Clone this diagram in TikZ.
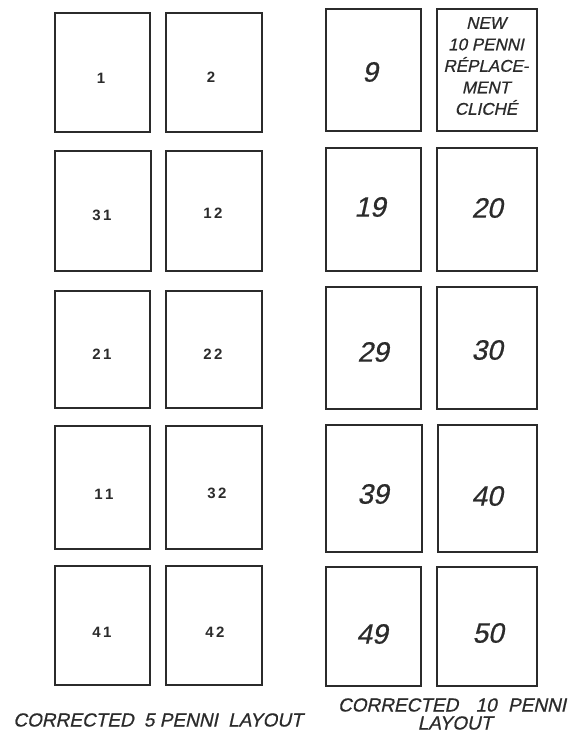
\documentclass[tikz,border=0pt]{standalone}
\usepackage{fontspec}
\setmainfont{Liberation Sans}
\newfontfamily\hand[FakeSlant=0.22,FakeBold=0.6]{Liberation Sans}
\definecolor{ink}{HTML}{2B2B2B}
\tikzset{
  cell/.style={draw=ink, line width=1.3pt, inner sep=0pt, rectangle},
  printed/.style={inner sep=0pt, text=ink, font=\bfseries\fontsize{15}{17}\selectfont},
  written/.style={inner sep=0pt, text=ink, font=\hand\fontsize{28}{30}\selectfont},
  note/.style={inner sep=0pt, text=ink, align=center, font=\hand\fontsize{17}{21.5}\selectfont},
  caption/.style={inner sep=0pt, text=ink, font=\hand\fontsize{19}{21}\selectfont}
}
\newcommand{\cellbox}[5]{%
  \node[cell, minimum width={#4-#2}, minimum height={#5-#3}] (#1) at ({(#2+#4)/2},{(#3+#5)/2}) {};}
\begin{document}
\begin{tikzpicture}[x=1pt,y=-1pt]
\useasboundingbox[fill=white] (0,0) rectangle (580,733);
% left block (5 penni)
\cellbox{b1}{55}{13}{150}{132}
\cellbox{b2}{166}{13}{262}{132}
\cellbox{b31}{55}{151}{151}{271}
\cellbox{b12}{166}{151}{262}{271}
\cellbox{b21}{55}{291}{150}{408}
\cellbox{b22}{166}{291}{262}{408}
\cellbox{b11}{55}{426}{150}{549}
\cellbox{b32}{166}{426}{262}{549}
\cellbox{b41}{55}{566}{150}{685}
\cellbox{b42}{166}{566}{262}{685}
% right block (10 penni)
\cellbox{b9}{326}{9}{421}{131}
\cellbox{bnew}{437}{9}{537}{131}
\cellbox{b19}{326}{148}{421}{271}
\cellbox{b20}{437}{148}{537}{271}
\cellbox{b29}{326}{287}{421}{409}
\cellbox{b30}{437}{287}{537}{409}
\cellbox{b39}{326}{425}{422}{552}
\cellbox{b40}{438}{425}{537}{552}
\cellbox{b49}{326}{567}{421}{686}
\cellbox{b50}{437}{567}{537}{686}
% printed numbers
\node[printed] (l1) at (101,78) {1};
\node[printed] (l2) at (211,77) {2};
\node[printed] (l31) at (102,215) {3\,1};
\node[printed] (l12) at (213,213) {1\,2};
\node[printed] (l21) at (102,354) {2\,1};
\node[printed] (l22) at (213,354) {2\,2};
\node[printed] (l11) at (104,494) {1\,1};
\node[printed] (l32) at (217,493) {3\,2};
\node[printed] (l41) at (102,632) {4\,1};
\node[printed] (l42) at (215,632) {4\,2};
% handwritten numbers
\node[written] (l9) at (370,72) {9};
\node[written] (l19) at (370,207) {19};
\node[written] (l20) at (487,208) {20};
\node[written] (l29) at (373,352) {29};
\node[written] (l30) at (487,350) {30};
\node[written] (l39) at (373,494) {39};
\node[written] (l40) at (487,496) {40};
\node[written] (l49) at (372,634) {49};
\node[written] (l50) at (488,633) {50};
% replacement note
\node[note] (lnew) at (486,66) {NEW\\10 PENNI\\RÉPLACE-\\MENT\\CLICHÉ};
% captions
\node[caption] (cap5) at (158,720) {CORRECTED\hspace{5pt} 5 PENNI\hspace{5pt} LAYOUT};
\node[caption] (cap10) at (452,705) {CORRECTED\hspace{12pt} 10\hspace{6pt} PENNI};
\node[caption] (cap10b) at (455,723) {LAYOUT};
\end{tikzpicture}
\end{document}
